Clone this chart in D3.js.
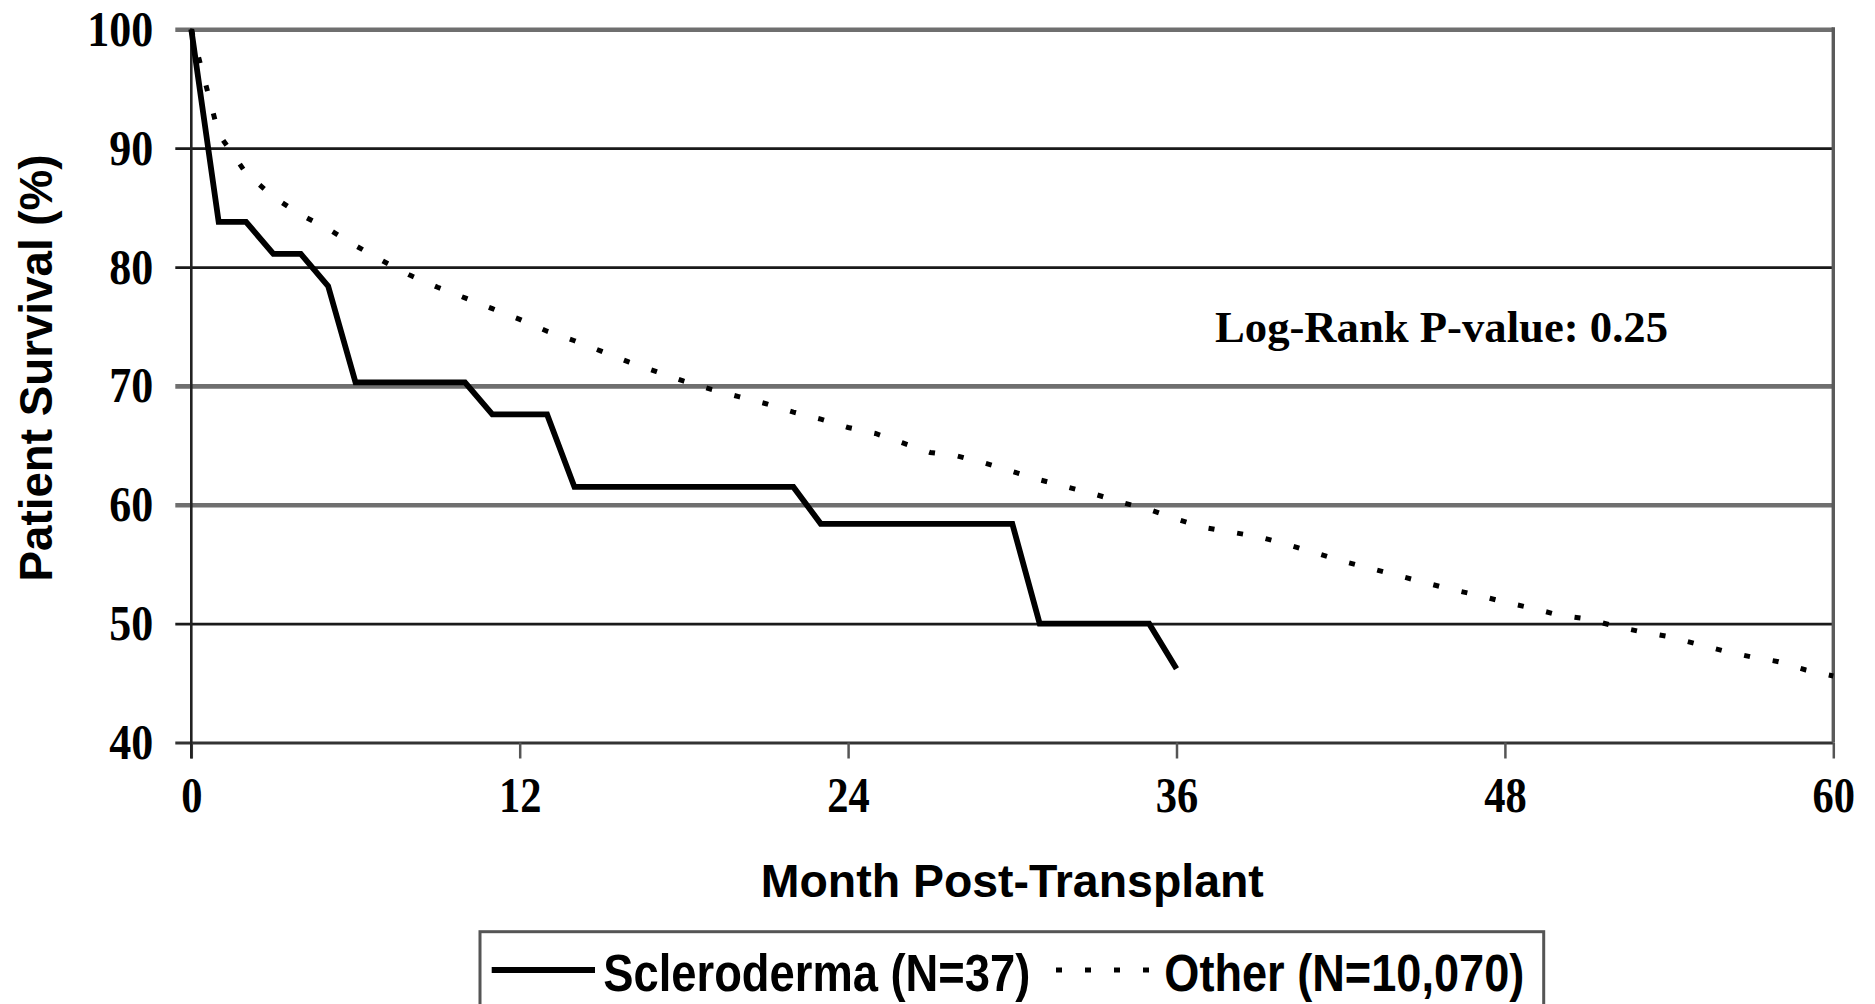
<!DOCTYPE html>
<html>
<head>
<meta charset="utf-8">
<script src="https://cdn.jsdelivr.net/npm/d3@7"></script>
<style>
  body { margin: 0; background: #fff; }
  svg { display: block; }
</style>
</head>
<body>
<svg id="chart" width="1875" height="1004"></svg>
<script>
// ---- data ----
const yTickValues = [40, 50, 60, 70, 80, 90, 100];
const xTickValues = [0, 12, 24, 36, 48, 60];

// Scleroderma (N=37) Kaplan-Meier estimate, % surviving by month
const sclerodermaMonths   = [0, 1, 2, 3, 4, 5, 6, 10, 11, 13, 14, 22, 23, 30, 31, 35, 36];
const sclerodermaSurvival = [100, 83.8, 83.8, 81.1, 81.1, 78.4, 70.3, 70.3, 67.6, 67.6, 61.5, 61.5, 58.4, 58.4, 50.0, 50.0, 46.2];

// Other (N=10,070), % surviving by month
const otherMonths = [0, 1, 2, 3, 4, 5, 6, 7, 8, 9, 10, 11, 12, 13, 14, 15, 16, 17, 18, 19, 20,
  21, 22, 23, 24, 25, 26, 27, 28, 29, 30, 31, 32, 33, 34, 35, 36, 37, 38, 39, 40,
  41, 42, 43, 44, 45, 46, 47, 48, 49, 50, 51, 52, 53, 54, 55, 56, 57, 58, 59, 60];
const otherSurvival = [100, 91.2, 87.9, 85.9, 84.4, 83.2, 81.8, 80.5, 79.3, 78.3, 77.4,
  76.5, 75.6, 74.6, 73.8, 72.9, 72.0, 71.2, 70.4, 69.7, 69.1,
  68.5, 67.8, 67.2, 66.5, 66.0, 65.2, 64.4, 64.1, 63.5, 62.8,
  62.1, 61.5, 60.9, 60.2, 59.6, 58.8, 58.1, 57.7, 57.3, 56.7,
  56.0, 55.3, 54.7, 54.1, 53.5, 52.9, 52.4, 51.8, 51.3, 50.7,
  50.4, 49.8, 49.3, 48.9, 48.3, 47.7, 47.2, 46.8, 46.1, 45.6];

const seriesLabels = ["Scleroderma (N=37)", "Other (N=10,070)"];
const xAxisTitle = "Month Post-Transplant";
const yAxisTitle = "Patient Survival (%)";
const pValueNote = "Log-Rank P-value: 0.25";

// ---- layout ----
const svg = d3.select("#chart");
const SERIF = "'Liberation Serif', 'Times New Roman', serif";
const SANS = "'Liberation Sans', Arial, sans-serif";

const x = d3.scaleLinear().domain([0, 60]).range([191.3, 1833.3]);
const y = d3.scaleLinear().domain([40, 100]).range([742.5, 29.3]);
const plotW = x(60) - x(0);

// squeeze text horizontally to a fraction of its natural width
function squeeze(sel, f) {
  sel.each(function () {
    const w = this.getComputedTextLength();
    d3.select(this).attr("textLength", w * f).attr("lengthAdjust", "spacingAndGlyphs");
  });
}

// horizontal gridlines with y tick labels
const softLines = new Set([100, 70, 60]);
const yAxisG = svg.append("g")
  .attr("transform", `translate(${x(0)},0)`)
  .call(d3.axisLeft(y).tickValues(yTickValues).tickSize(-plotW).tickPadding(38).tickFormat(d3.format("d")));
yAxisG.select(".domain").remove();
yAxisG.selectAll(".tick line")
  .attr("x1", -16)
  .attr("stroke", d => softLines.has(d) ? "#6f6f6f" : (d === 40 ? "#333" : "#1a1a1a"))
  .attr("stroke-width", d => softLines.has(d) ? 4.6 : 2.8);
yAxisG.selectAll(".tick text")
  .attr("font-family", SERIF)
  .attr("font-weight", "bold")
  .attr("font-size", 50)
  .attr("fill", "#000")
  .call(squeeze, 0.88);

// x axis ticks and labels
const xAxisG = svg.append("g")
  .attr("transform", `translate(0,${y(40)})`)
  .call(d3.axisBottom(x).tickValues(xTickValues).tickSize(16).tickPadding(18).tickFormat(d3.format("d")));
xAxisG.select(".domain").remove();
xAxisG.selectAll(".tick line").attr("stroke", "#555").attr("stroke-width", 2.5);
xAxisG.selectAll(".tick text")
  .attr("font-family", SERIF)
  .attr("font-weight", "bold")
  .attr("font-size", 50)
  .attr("fill", "#000")
  .call(squeeze, 0.85);

// left axis line and right frame edge
svg.append("line")
  .attr("x1", x(0)).attr("x2", x(0))
  .attr("y1", y(100) - 1).attr("y2", y(40) + 16)
  .attr("stroke", "#222").attr("stroke-width", 2.6);
svg.append("line")
  .attr("x1", x(60)).attr("x2", x(60))
  .attr("y1", y(100) - 2).attr("y2", y(40))
  .attr("stroke", "#5a5a5a").attr("stroke-width", 3.4);

// survival curves
const line = d3.line().x(d => x(d[0])).y(d => y(d[1]));
const otherData = otherMonths.map((m, i) => [m, otherSurvival[i]]);
const sclData = sclerodermaMonths.map((m, i) => [m, sclerodermaSurvival[i]]);

svg.append("path")
  .datum(otherData)
  .attr("d", line)
  .attr("fill", "none")
  .attr("stroke", "#000")
  .attr("stroke-width", 5)
  .attr("stroke-dasharray", "6,23");

svg.append("path")
  .datum(sclData)
  .attr("d", line)
  .attr("fill", "none")
  .attr("stroke", "#000")
  .attr("stroke-width", 5.8)
  .attr("stroke-linejoin", "miter");

// p-value annotation
svg.append("text")
  .attr("x", 1215).attr("y", 341.7)
  .attr("font-family", SERIF).attr("font-weight", "bold").attr("font-size", 44)
  .attr("fill", "#000")
  .attr("textLength", 453).attr("lengthAdjust", "spacingAndGlyphs")
  .text(pValueNote);

// axis titles
svg.append("text")
  .attr("x", (x(0) + x(60)) / 2).attr("y", 897.3)
  .attr("text-anchor", "middle")
  .attr("font-family", SANS).attr("font-weight", "bold").attr("font-size", 46)
  .attr("fill", "#000")
  .attr("textLength", 503).attr("lengthAdjust", "spacingAndGlyphs")
  .text(xAxisTitle);

svg.append("text")
  .attr("transform", "translate(52,368) rotate(-90)")
  .attr("text-anchor", "middle")
  .attr("font-family", SANS).attr("font-weight", "bold").attr("font-size", 46)
  .attr("fill", "#000")
  .attr("textLength", 427).attr("lengthAdjust", "spacingAndGlyphs")
  .text(yAxisTitle);

// legend
const lg = svg.append("g");
lg.append("rect")
  .attr("x", 480).attr("y", 931.7)
  .attr("width", 1063.7).attr("height", 120)
  .attr("fill", "#fff")
  .attr("stroke", "#555").attr("stroke-width", 3);
lg.append("line")
  .attr("x1", 491.7).attr("x2", 595).attr("y1", 970).attr("y2", 970)
  .attr("stroke", "#000").attr("stroke-width", 5.8);
lg.append("text")
  .attr("x", 603.3).attr("y", 990.7)
  .attr("font-family", SANS).attr("font-weight", "bold").attr("font-size", 51)
  .attr("fill", "#000")
  .attr("textLength", 427).attr("lengthAdjust", "spacingAndGlyphs")
  .text(seriesLabels[0]);
lg.append("line")
  .attr("x1", 1056).attr("x2", 1152).attr("y1", 970).attr("y2", 970)
  .attr("stroke", "#000").attr("stroke-width", 5)
  .attr("stroke-dasharray", "6,23");
lg.append("text")
  .attr("x", 1164.3).attr("y", 990.7)
  .attr("font-family", SANS).attr("font-weight", "bold").attr("font-size", 51)
  .attr("fill", "#000")
  .attr("textLength", 360).attr("lengthAdjust", "spacingAndGlyphs")
  .text(seriesLabels[1]);
</script>
</body>
</html>
